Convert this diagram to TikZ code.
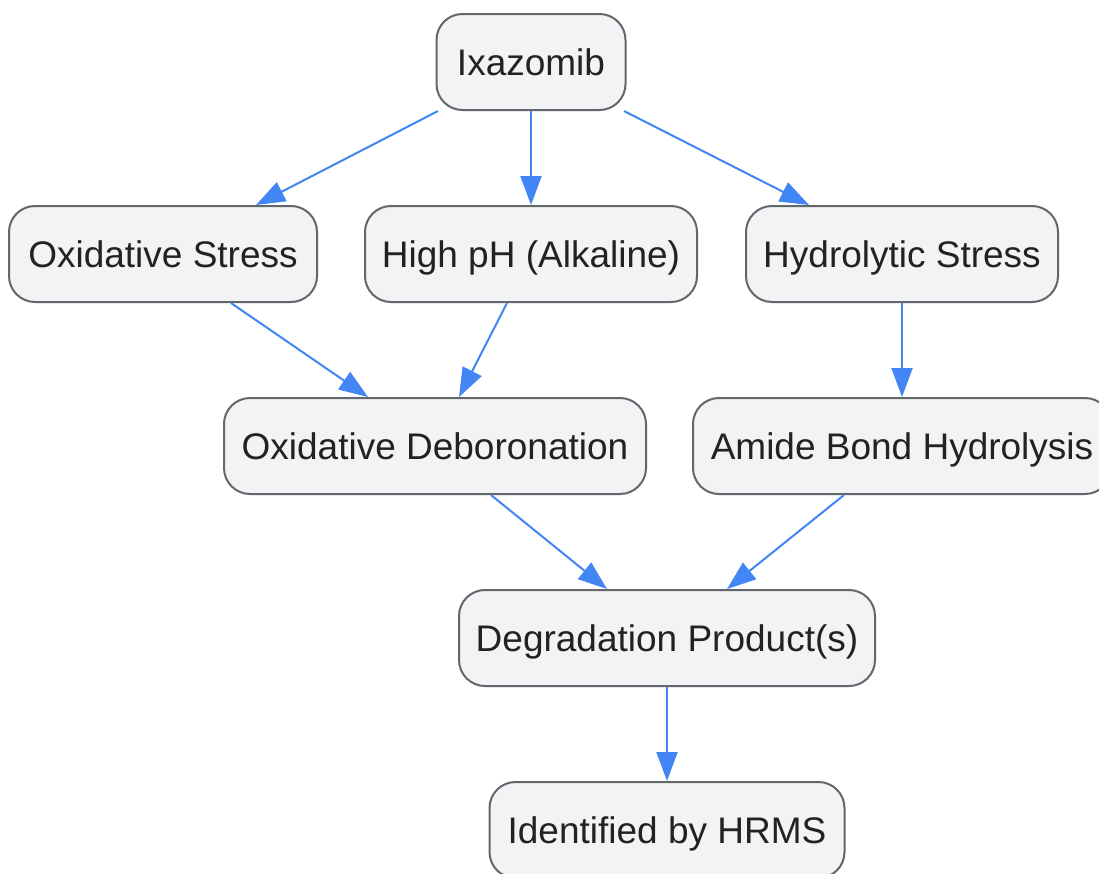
\documentclass[tikz,border=0pt]{standalone}
\usepackage{fontspec}
\setmainfont{Liberation Sans}
\usetikzlibrary{arrows.meta,calc}
\definecolor{boxfill}{HTML}{F2F3F5}
\definecolor{boxline}{HTML}{63666B}
\definecolor{arrowblue}{HTML}{4285F4}
\definecolor{textcol}{HTML}{222222}
\begin{document}
\begin{tikzpicture}[x=1pt,y=-1pt,
  box/.style={draw=boxline, fill=boxfill, line width=2pt, rounded corners=26pt,
    minimum height=96pt, inner sep=0pt, text=textcol, text height=27pt, text depth=0pt,
    font=\fontsize{37}{44}\selectfont},
  conn/.style={draw=arrowblue, line width=2pt, -{Triangle[length=29pt,width=21pt]}}]
\clip (0,0) rectangle (1099,873);
\fill[white] (0,0) rectangle (1099,873);
\node[box, minimum width=189pt] (ixa) at (531,62) {Ixazomib};
\node[box, minimum width=308pt] (oxs) at (163,254) {Oxidative Stress};
\node[box, minimum width=332pt] (hph) at (531,254) {High pH (Alkaline)};
\node[box, minimum width=312pt] (hyd) at (902,254) {Hydrolytic Stress};
\node[box, minimum width=422pt] (oxd) at (435,446) {Oxidative Deboronation};
\node[box, minimum width=418pt] (ami) at (902,446) {Amide Bond Hydrolysis};
\node[box, minimum width=416pt] (deg) at (667,638) {Degradation Product(s)};
\node[box, minimum width=355pt] (ide) at (667,830) {Identified by HRMS};
\draw[conn] ($(ixa.south)+(-93,0)$) -- ($(oxs.north)+(93,0)$);
\draw[conn] (ixa.south) -- (hph.north);
\draw[conn] ($(ixa.south)+(93,0)$) -- ($(hyd.north)+(-93,0)$);
\draw[conn] ($(oxs.south)+(68,0)$) -- ($(oxd.north)+(-67,0)$);
\draw[conn] ($(hph.south)+(-24,0)$) -- ($(oxd.north)+(24,0)$);
\draw[conn] (hyd.south) -- (ami.north);
\draw[conn] ($(oxd.south)+(56,0)$) -- ($(deg.north)+(-60,0)$);
\draw[conn] ($(ami.south)+(-58,0)$) -- ($(deg.north)+(60,0)$);
\draw[conn] (deg.south) -- (ide.north);
\end{tikzpicture}
\end{document}
